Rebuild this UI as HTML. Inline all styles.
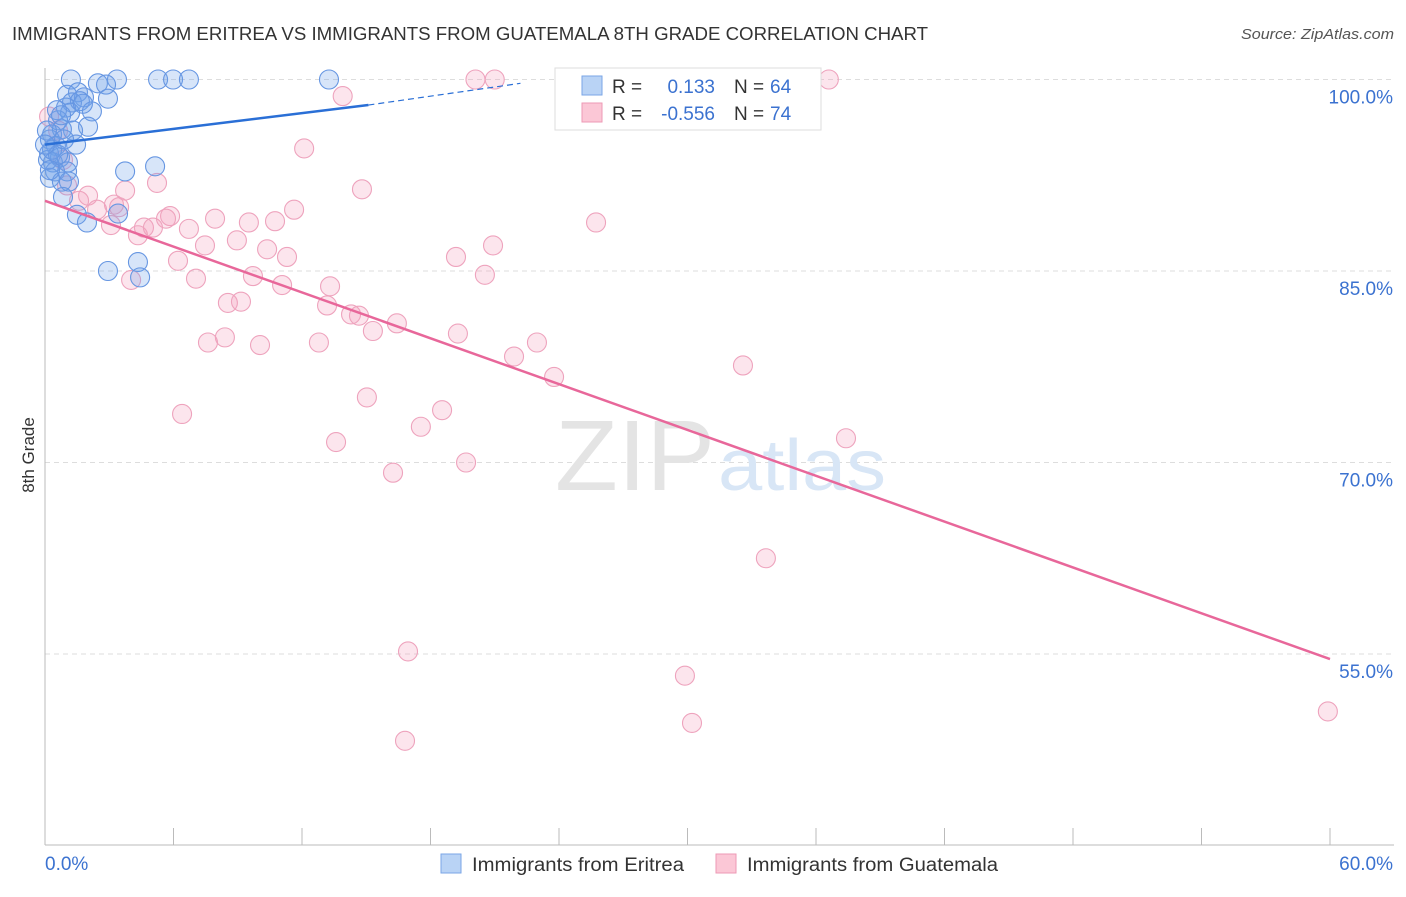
<!DOCTYPE html>
<html><head><meta charset="utf-8"><style>
body{margin:0;background:#fff;font-family:"Liberation Sans",sans-serif;}
svg text{font-family:"Liberation Sans",sans-serif;}
</style></head><body>
<svg id="chart" width="1406" height="892" viewBox="0 0 1406 892" xmlns="http://www.w3.org/2000/svg">
<text x="12" y="40" font-size="18" fill="#333" textLength="916" lengthAdjust="spacingAndGlyphs">IMMIGRANTS FROM ERITREA VS IMMIGRANTS FROM GUATEMALA 8TH GRADE CORRELATION CHART</text>
<text x="1394" y="39" font-size="15" fill="#555" text-anchor="end" font-style="italic" textLength="153" lengthAdjust="spacingAndGlyphs">Source: ZipAtlas.com</text>
<g id="grid"></g>
<g id="watermark">
<text x="635" y="490" font-size="100" fill="#e4e4e4" text-anchor="middle" font-family="Liberation Serif,serif" textLength="160" lengthAdjust="spacingAndGlyphs">ZIP</text>
<text x="802" y="490" font-size="72" fill="#d8e6f6" text-anchor="middle" textLength="168" lengthAdjust="spacingAndGlyphs">atlas</text>
</g>
<g id="axes"></g>
<g id="pink-points"></g>
<g id="blue-points"></g>
<g id="trends"></g>
<text transform="translate(34,455) rotate(-90)" font-size="17" fill="#333" text-anchor="middle">8th Grade</text>
<g>
<rect x="555" y="68" width="266" height="62" fill="#fff" stroke="#ddd"/>
<rect x="582" y="76" width="20" height="19" fill="#b9d3f5" stroke="#7aa6e6"/>
<rect x="582" y="103" width="20" height="19" fill="#fbc7d6" stroke="#ee9ab5"/>
<text x="612" y="93" font-size="19" fill="#333">R =</text>
<text x="715" y="93" font-size="19" fill="#3b72d0" text-anchor="end">0.133</text>
<text x="734" y="93" font-size="19" fill="#333">N =</text>
<text x="770" y="93" font-size="19" fill="#3b72d0">64</text>
<text x="612" y="120" font-size="19" fill="#333">R =</text>
<text x="715" y="120" font-size="19" fill="#3b72d0" text-anchor="end">-0.556</text>
<text x="734" y="120" font-size="19" fill="#333">N =</text>
<text x="770" y="120" font-size="19" fill="#3b72d0">74</text>
</g>
<g>
<rect x="441" y="854" width="20" height="19" fill="#b9d3f5" stroke="#7aa6e6"/>
<text x="472" y="871" font-size="19" fill="#333" textLength="212" lengthAdjust="spacingAndGlyphs">Immigrants from Eritrea</text>
<rect x="716" y="854" width="20" height="19" fill="#fbc7d6" stroke="#ee9ab5"/>
<text x="747" y="871" font-size="19" fill="#333" textLength="251" lengthAdjust="spacingAndGlyphs">Immigrants from Guatemala</text>
</g>
</svg>
<script>
const blueX=[1.21,2.47,3.36,5.28,5.98,6.72,13.26,2.85,1.03,1.54,1.82,2.94,1.26,1.63,0.98,1.17,2.19,0.61,2.01,1.31,0.33,0.79,0.23,0.51,1.45,0.19,0.70,0.37,1.07,0.47,1.03,0.23,0.79,1.12,0.84,1.49,1.96,3.41,3.74,5.14,2.94,4.34,4.44,0.14,0.33,0.61,0.89,0.09,0.23,0,0.56,1.77,0.75];
const blueY=[100,99.7,100,100,100,100,100,99.6,98.8,99.0,98.6,98.5,98.2,98.3,97.8,97.4,97.5,96.8,96.3,96.0,95.7,96.1,95.3,94.8,94.9,94.2,93.9,93.5,93.5,92.8,92.8,92.3,92.0,92.0,90.8,89.4,88.8,89.5,92.8,93.2,85.0,85.7,84.5,93.7,94.5,94.1,95.3,96.0,92.9,94.9,97.6,98.1,97.2];
const pinkX=[36.6,20.1,21.0,13.9,12.1,0.19,0.61,0.84,1.03,2.01,1.59,2.43,3.22,3.08,3.74,5.23,3.46,4.34,4.62,5.04,5.84,5.65,6.72,7.94,7.47,8.96,9.52,10.74,11.63,10.37,11.30,6.21,7.05,4.02,9.71,11.07,8.54,9.15,8.40,7.61,10.04,13.31,13.17,14.29,14.66,15.31,16.43,12.79,19.28,22.97,21.90,23.77,14.80,19.19,20.92,20.54,25.73,32.59,15.03,18.54,17.55,13.59,19.66,16.25,6.40,37.40,33.66,16.95,29.88,30.21,16.81,59.90];
const pinkY=[100,100,100,98.7,94.6,97.1,96.0,93.7,91.7,90.9,90.5,89.8,90.2,88.6,91.3,91.9,90.0,87.8,88.4,88.4,89.3,89.1,88.3,89.1,87.0,87.4,88.8,88.9,89.8,86.7,86.1,85.8,84.4,84.3,84.6,83.9,82.5,82.6,79.8,79.4,79.2,83.8,82.3,81.6,81.5,80.3,80.9,79.4,80.1,79.4,78.3,76.7,91.4,86.1,87.0,84.7,88.8,77.6,75.1,74.1,72.8,71.6,70.0,69.2,73.8,71.9,62.5,55.2,53.3,49.6,48.2,50.5];
const blueTrend=[0,94.9,15.1,98.0,22.2,99.7];
const pinkTrend=[0,90.5,60,54.6];
const yTicks=[100,85,70,55];
const yTickLabels=["100.0%","85.0%","70.0%","55.0%"];
const xTicks=[0,6,12,18,24,30,36,42,48,54,60];

const NS="http://www.w3.org/2000/svg";
const X=v=>45+v/60*1285;
const Y=v=>79.5+(100-v)/15*191.5;
function mk(tag,attrs,parent){const e=document.createElementNS(NS,tag);for(const k in attrs)e.setAttribute(k,attrs[k]);parent.appendChild(e);return e;}
const grid=document.getElementById('grid'),axes=document.getElementById('axes');
yTicks.forEach((t,i)=>{
  const l=mk('line',{x1:45,x2:1394,y1:Y(t),y2:Y(t),stroke:'#ddd','stroke-dasharray':'5,4'},grid);
  
  
  const tx=mk('text',{x:1393,y:Y(t)+24,'font-size':19,fill:'#3b72d0','text-anchor':'end'},axes);
  tx.textContent=yTickLabels[i];
  
  
});
mk('line',{x1:45,x2:45,y1:68,y2:845,stroke:'#bbb'},axes);
mk('line',{x1:45,x2:1394,y1:845,y2:845,stroke:'#bbb'},axes);
xTicks.forEach(t=>{
  const l=mk('line',{x1:X(t),x2:X(t),y1:828,y2:845,stroke:'#bbb'},axes);
  
  
});
const xl0=mk('text',{x:45,y:870,'font-size':19,fill:'#3b72d0'},axes);xl0.textContent='0.0%';


const xl1=mk('text',{x:1393,y:870,'font-size':19,fill:'#3b72d0','text-anchor':'end'},axes);xl1.textContent='60.0%';


const pg=document.getElementById('pink-points');
pinkX.forEach((v,i)=>{
  const c=mk('circle',{cx:X(v),cy:Y(pinkY[i]),r:9.5,fill:'rgba(245,160,190,0.28)',stroke:'#eea3bd','stroke-width':1.1},pg);
  
  
});
const bg=document.getElementById('blue-points');
blueX.forEach((v,i)=>{
  const c=mk('circle',{cx:X(v),cy:Y(blueY[i]),r:9.5,fill:'rgba(110,160,235,0.28)',stroke:'#6696e2','stroke-width':1.1},bg);
  
  
});
const tg=document.getElementById('trends');
const b1=mk('line',{x1:X(blueTrend[0]),y1:Y(blueTrend[1]),x2:X(blueTrend[2]),y2:Y(blueTrend[3]),stroke:'#2a6fd6','stroke-width':2.5},tg);


const b2=mk('line',{x1:X(blueTrend[2]),y1:Y(blueTrend[3]),x2:X(blueTrend[4]),y2:Y(blueTrend[5]),stroke:'#2a6fd6','stroke-width':1.2,'stroke-dasharray':'6,4'},tg);


const p1=mk('line',{x1:X(pinkTrend[0]),y1:Y(pinkTrend[1]),x2:X(pinkTrend[2]),y2:Y(pinkTrend[3]),stroke:'#e8679a','stroke-width':2.5},tg);


</script>
</body></html>
